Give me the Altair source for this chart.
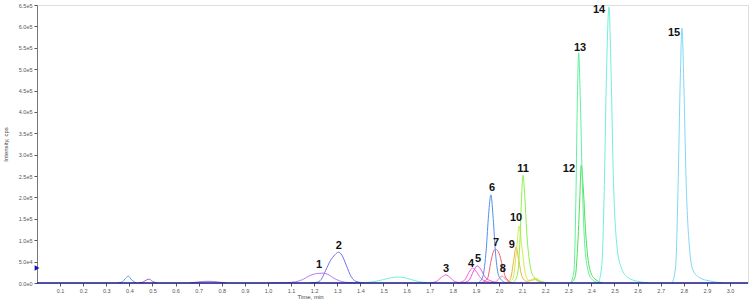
import altair as alt
import pandas as pd

# ---- trace data (time in min, intensity in cps) ----
t_a = [0.35, 0.37, 0.385, 0.395, 0.41, 0.43]
i_a = [0, 3000, 12000, 16000, 7000, 0]
t_b = [0.44, 0.46, 0.475, 0.485, 0.50, 0.52]
i_b = [0, 2500, 7500, 9000, 4000, 0]
t_c = [0.66, 0.70, 0.74, 0.78, 0.82]
i_c = [0, 2500, 4000, 2500, 0]
t_p1 = [1.00, 1.08, 1.12, 1.15, 1.18, 1.21, 1.24, 1.26, 1.28, 1.31, 1.35, 1.40]
i_p1 = [0, 800, 3000, 8000, 17000, 22000, 23000, 20000, 13000, 5000, 1000, 0]
t_p2 = [1.18, 1.21, 1.23, 1.25, 1.27, 1.29, 1.305, 1.32, 1.34, 1.36, 1.38, 1.42]
i_p2 = [0, 1500, 8000, 30000, 52000, 66000, 72000, 65000, 40000, 15000, 4000, 0]
t_d = [1.40, 1.45, 1.50, 1.53, 1.56, 1.59, 1.62, 1.66, 1.72]
i_d = [0, 2500, 8000, 12000, 14000, 12500, 8000, 2500, 0]
t_p3 = [1.70, 1.73, 1.75, 1.77, 1.79, 1.81, 1.84]
i_p3 = [0, 4000, 13000, 19000, 12000, 3000, 0]
t_p4 = [1.82, 1.85, 1.87, 1.885, 1.90, 1.92, 1.95, 1.99]
i_p4 = [0, 6000, 25000, 35000, 28000, 12000, 3000, 0]
t_p5 = [1.84, 1.87, 1.89, 1.905, 1.92, 1.94, 1.97, 2.01]
i_p5 = [0, 6000, 28000, 40000, 33000, 14000, 4000, 0]
t_p6 = [1.91, 1.93, 1.945, 1.955, 1.965, 1.975, 1.985, 2.00, 2.03]
i_p6 = [0, 15000, 80000, 160000, 206000, 150000, 70000, 15000, 0]
t_p7 = [1.92, 1.95, 1.965, 1.975, 1.985, 2.00, 2.015, 2.03, 2.06]
i_p7 = [0, 10000, 50000, 72000, 79000, 70000, 40000, 12000, 0]
t_p8 = [1.97, 1.99, 2.00, 2.013, 2.025, 2.04, 2.06]
i_p8 = [0, 4000, 11000, 16000, 11000, 3000, 0]
t_p9 = [2.03, 2.05, 2.063, 2.074, 2.085, 2.10, 2.12, 2.14, 2.155, 2.17, 2.20]
i_p9 = [0, 10000, 50000, 84000, 55000, 15000, 4000, 6000, 8000, 3000, 0]
t_p10 = [2.04, 2.06, 2.075, 2.087, 2.10, 2.115, 2.13, 2.145, 2.16, 2.18, 2.21]
i_p10 = [0, 10000, 70000, 133000, 80000, 20000, 6000, 9000, 11000, 4000, 0]
t_p11 = [2.06, 2.08, 2.09, 2.097, 2.104, 2.112, 2.12, 2.135, 2.15, 2.18, 2.22]
i_p11 = [0, 20000, 90000, 190000, 252000, 200000, 120000, 40000, 15000, 4000, 0]
t_p12 = [2.31, 2.33, 2.34, 2.35, 2.356, 2.365, 2.375, 2.39, 2.41, 2.45]
i_p12 = [0, 15000, 80000, 200000, 276000, 220000, 120000, 40000, 12000, 0]
t_p13 = [2.31, 2.325, 2.333, 2.34, 2.345, 2.352, 2.36, 2.37, 2.385, 2.40, 2.43]
i_p13 = [0, 30000, 200000, 450000, 538000, 430000, 250000, 100000, 30000, 10000, 0]
t_p14 = [2.43, 2.445, 2.455, 2.465, 2.476, 2.485, 2.495, 2.51, 2.53, 2.56, 2.60, 2.65]
i_p14 = [0, 40000, 200000, 480000, 645000, 500000, 250000, 90000, 35000, 12000, 4000, 0]
t_p15 = [2.75, 2.765, 2.775, 2.785, 2.792, 2.80, 2.81, 2.825, 2.84, 2.87, 2.91, 2.97]
i_p15 = [0, 40000, 220000, 480000, 596000, 470000, 240000, 80000, 30000, 12000, 5000, 0]

trace_names = ["a", "b", "c", "p1", "p2", "d", "p3", "p4", "p5", "p6", "p7", "p8",
               "p9", "p10", "p11", "p12", "p13", "p14", "p15"]
trace_colors = ["#5aa0f0", "#a060e0", "#a070e0", "#b580f5", "#7070f0", "#70f0e0",
                "#f060e0", "#ff60d0", "#e850e8", "#5090f0", "#f06070", "#f08090",
                "#f0b040", "#d0f040", "#90f050", "#50e050", "#60f0a0", "#70f0d8",
                "#80d8f8"]
trace_t = [t_a, t_b, t_c, t_p1, t_p2, t_d, t_p3, t_p4, t_p5, t_p6, t_p7, t_p8,
           t_p9, t_p10, t_p11, t_p12, t_p13, t_p14, t_p15]
trace_i = [i_a, i_b, i_c, i_p1, i_p2, i_d, i_p3, i_p4, i_p5, i_p6, i_p7, i_p8,
           i_p9, i_p10, i_p11, i_p12, i_p13, i_p14, i_p15]

# peak labels
label_text = ["1", "2", "3", "4", "5", "6", "7", "8", "9", "10", "11", "12", "13", "14", "15"]
label_t = [1.221, 1.307, 1.771, 1.879, 1.909, 1.970, 1.987, 2.017, 2.056, 2.074, 2.104,
           2.303, 2.351, 2.433, 2.758]
label_i = [42100, 86500, 32700, 44400, 56100, 222100, 93500, 32700, 88800, 152000, 266500,
           266500, 549400, 638300, 584500]

x_ticks = [round(0.1 * k, 1) for k in range(1, 31)]
y_ticks = [50000 * k for k in range(0, 14)]
x_max = 3.078
y_max = 650000

rows = []
for n, ts, vs in zip(trace_names, trace_t, trace_i):
    for k, (t, v) in enumerate(zip(ts, vs)):
        rows.append({"trace": n, "t": t, "i": v, "o": k})
df = pd.DataFrame(rows)
labels = pd.DataFrame({"txt": label_text, "t": label_t, "i": label_i})
base_df = pd.DataFrame({"t": [0, x_max], "i": [0, 0]})
marker_df = pd.DataFrame({"t": [0], "i": [35000]})

xs = alt.Scale(domain=[0, x_max], nice=False, zero=False)
ys = alt.Scale(domain=[0, y_max], nice=False)

x_axis = alt.Axis(values=x_ticks, format=".1f", labelFontSize=5.5, labelColor="#555555",
                  labelOverlap=False, tickSize=3, tickColor="#555555", domain=False,
                  grid=False, title="Time, min", titleFontSize=6, titleFontWeight="normal",
                  titleColor="#444444", titleX=273, titleY=10, titleBaseline="top",
                  titleAlign="center", labelPadding=2)
y_axis = alt.Axis(values=y_ticks, labelExpr="replace(format(datum.value, '.1e'), '+', '')",
                  labelOverlap=False, labelFontSize=5.5, labelColor="#555555", tickSize=3,
                  tickColor="#555555", domainColor="#777777", grid=False,
                  title="Intensity, cps", titleFontSize=6, titleFontWeight="normal",
                  titleColor="#444444", titleX=-29, titleY=139, titleAlign="center",
                  labelPadding=2)

lines = alt.Chart(df).mark_line(strokeWidth=1, interpolate="monotone", clip=True).encode(
    x=alt.X("t:Q", scale=xs, axis=x_axis),
    y=alt.Y("i:Q", scale=ys, axis=y_axis),
    color=alt.Color("trace:N", scale=alt.Scale(domain=trace_names, range=trace_colors),
                    legend=None),
    order="o:Q",
)

baseline = alt.Chart(base_df).mark_line(color="#1a1a8c", strokeWidth=1.6).encode(
    x=alt.X("t:Q", scale=xs, axis=x_axis), y=alt.Y("i:Q", scale=ys, axis=y_axis))

marker = alt.Chart(marker_df).mark_point(shape="triangle-right", filled=True,
                                         color="#1010b0", size=30, opacity=1).encode(
    x=alt.X("t:Q", scale=xs, axis=x_axis), y=alt.Y("i:Q", scale=ys, axis=y_axis))

text = alt.Chart(labels).mark_text(font="Liberation Sans", fontSize=11, fontWeight="bold",
                                   color="#111111", baseline="middle", align="center").encode(
    x=alt.X("t:Q", scale=xs, axis=x_axis), y=alt.Y("i:Q", scale=ys, axis=y_axis),
    text="txt:N")

chart = alt.layer(lines, baseline, marker, text).properties(
    width=711, height=278,
    autosize=alt.AutoSizeParams(type="none"),
    padding={"left": 37, "top": 5, "right": 2, "bottom": 18},
).configure_view(stroke=None).configure(font="Liberation Sans").configure_axis(
    labelOverlap=False)

chart.save("out.html", embed_options={"renderer": "svg", "actions": False})
